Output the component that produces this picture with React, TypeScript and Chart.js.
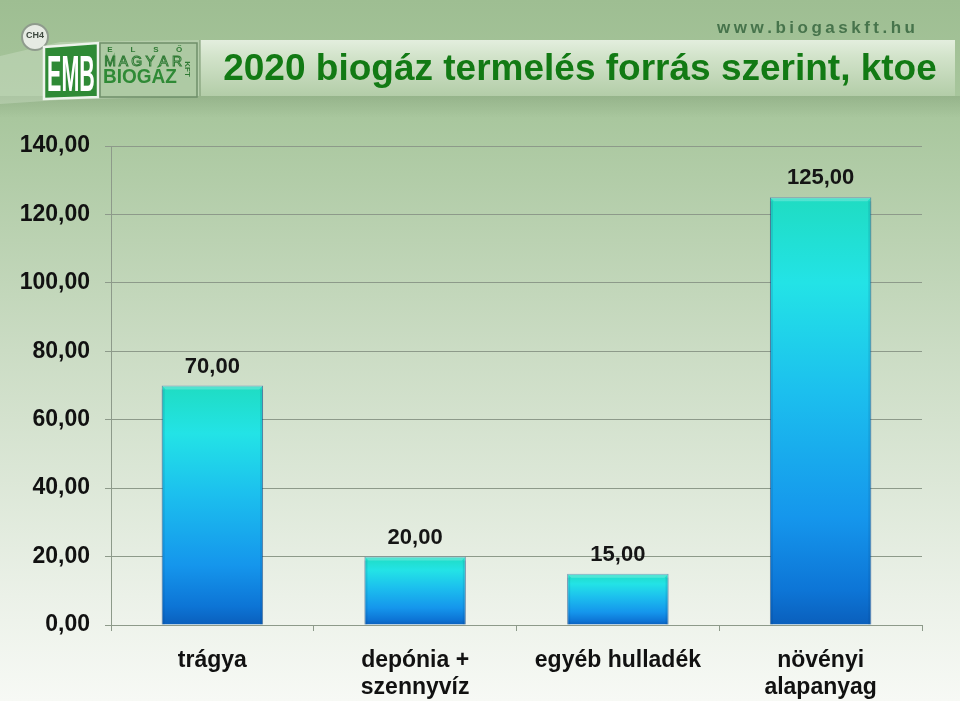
import React, { useEffect, useRef } from "react";
import { Chart, registerables } from "chart.js";

Chart.register(...registerables);

const TITLE = "2020 biogáz termelés forrás szerint, ktoe";
const WEBSITE = "www.biogaskft.hu";
const categories: (string | string[])[] = [
  "trágya",
  ["depónia +", "szennyvíz"],
  "egyéb hulladék",
  ["növényi", "alapanyag"],
];
const values: number[] = [70, 20, 15, 125];
const yMin = 0;
const yMax = 140;
const yStep = 20;

const FONT = '"Liberation Sans", Arial, Helvetica, sans-serif';
const fmt = (v: number) => v.toFixed(2).replace(".", ",");

const headerPlugin = {
  id: "bgHeader",
  beforeDraw(chart: any) {
    const ctx: CanvasRenderingContext2D = chart.ctx;
    const W = chart.width;
    const H = chart.height;
    ctx.save();
    // page background
    const g = ctx.createLinearGradient(0, 0, 0, H);
    g.addColorStop(0, "#9ebe92");
    g.addColorStop(0.17, "#a9c79e");
    g.addColorStop(0.5, "#cbdcc4");
    g.addColorStop(0.85, "#ebf1e8");
    g.addColorStop(1, "#f7f9f5");
    ctx.fillStyle = g;
    ctx.fillRect(0, 0, W, H);

    // soft shadow under header
    const hb = ctx.createLinearGradient(0, 96, 0, 118);
    hb.addColorStop(0, "rgba(110,140,100,0.30)");
    hb.addColorStop(1, "rgba(110,140,100,0)");
    ctx.fillStyle = hb;
    ctx.fillRect(0, 96, W, 22);

    // pale perspective wall behind logo
    ctx.fillStyle = "rgba(215,230,208,0.35)";
    ctx.beginPath();
    ctx.moveTo(0, 56);
    ctx.lineTo(60, 42);
    ctx.lineTo(200, 40);
    ctx.lineTo(200, 96);
    ctx.lineTo(60, 100);
    ctx.lineTo(0, 104);
    ctx.closePath();
    ctx.fill();

    // title band
    const tb = ctx.createLinearGradient(0, 40, 0, 96);
    tb.addColorStop(0, "#e3eede");
    tb.addColorStop(0.3, "#d2e3ca");
    tb.addColorStop(1, "#b3cda8");
    ctx.fillStyle = tb;
    ctx.fillRect(200, 40, 755, 56);
    ctx.fillStyle = "rgba(120,150,110,0.5)";
    ctx.fillRect(199, 40, 2, 56);

    // CH4 circle
    ctx.beginPath();
    ctx.arc(35, 37, 13, 0, Math.PI * 2);
    ctx.fillStyle = "#e6ebe3";
    ctx.fill();
    ctx.lineWidth = 2;
    ctx.strokeStyle = "#8f9b8d";
    ctx.stroke();
    ctx.fillStyle = "#3f4a40";
    ctx.font = `bold 9px ${FONT}`;
    ctx.textAlign = "center";
    ctx.textBaseline = "middle";
    ctx.fillText("CH4", 35, 36);

    // EMB box
    ctx.beginPath();
    ctx.moveTo(44, 47);
    ctx.lineTo(98, 43);
    ctx.lineTo(98, 97);
    ctx.lineTo(44, 99);
    ctx.closePath();
    ctx.fillStyle = "#2f8a36";
    ctx.fill();
    ctx.lineWidth = 2.5;
    ctx.strokeStyle = "#eef3ec";
    ctx.stroke();
    ctx.save();
    ctx.translate(71, 91);
    ctx.scale(0.43, 1);
    ctx.font = `bold 50px ${FONT}`;
    ctx.fillStyle = "#ffffff";
    ctx.textAlign = "center";
    ctx.textBaseline = "alphabetic";
    ctx.fillText("EMB", 0, 0);
    ctx.restore();

    // MAGYAR BIOGÁZ box
    ctx.fillStyle = "rgba(170,200,160,0.7)";
    ctx.fillRect(100, 43, 97, 54);
    ctx.lineWidth = 1.5;
    ctx.strokeStyle = "#6f8f6a";
    ctx.strokeRect(100, 43, 97, 54);
    ctx.textAlign = "center";
    ctx.textBaseline = "alphabetic";
    ctx.font = `bold 8px ${FONT}`;
    ctx.fillStyle = "#2f7a34";
    const elso = ["E", "L", "S", "Ő"];
    elso.forEach((c, i) => ctx.fillText(c, 110 + i * 23, 52));
    ctx.font = `14px ${FONT}`;
    const magyar = "MAGYAR".split("");
    magyar.forEach((c, i) => {
      ctx.fillStyle = "#d6e7cf";
      ctx.fillText(c, 110 + i * 13.4, 66);
      ctx.lineWidth = 1;
      ctx.strokeStyle = "#2f7a34";
      ctx.strokeText(c, 110 + i * 13.4, 66);
    });
    ctx.font = `bold 20px ${FONT}`;
    ctx.fillStyle = "#2f8a36";
    ctx.textAlign = "left";
    ctx.save();
    ctx.translate(103, 83);
    ctx.scale(0.95, 1.05);
    ctx.fillText("BIOGÁZ", 0, 0);
    ctx.restore();
    ctx.save();
    ctx.translate(188, 69);
    ctx.rotate(Math.PI / 2);
    ctx.font = `bold 8px ${FONT}`;
    ctx.textAlign = "center";
    ctx.fillStyle = "#2f7a34";
    ctx.fillText("KFT", 0, 3);
    ctx.restore();

    // website
    ctx.font = `bold 17px ${FONT}`;
    ctx.fillStyle = "#47744c";
    ctx.textAlign = "left";
    let x = 717;
    for (const c of WEBSITE) {
      ctx.fillText(c, x, 33);
      x += ctx.measureText(c).width + 3.5;
    }

    // title
    ctx.font = `bold 37px ${FONT}`;
    ctx.fillStyle = "#127a14";
    ctx.textAlign = "center";
    ctx.fillText(TITLE, 580, 80);
    ctx.restore();
  },
};

const barDecorPlugin = {
  id: "barDecor",
  afterDatasetsDraw(chart: any) {
    const ctx: CanvasRenderingContext2D = chart.ctx;
    const meta = chart.getDatasetMeta(0);
    ctx.save();
    meta.data.forEach((bar: any, i: number) => {
      const half = bar.width / 2;
      const l = bar.x - half;
      const r = bar.x + half;
      const t = bar.y;
      const b = bar.base;
      // top bevel
      ctx.fillStyle = "rgba(255,255,255,0.22)";
      ctx.beginPath();
      ctx.moveTo(l, t);
      ctx.lineTo(r, t);
      ctx.lineTo(r - 4, t + 4);
      ctx.lineTo(l + 4, t + 4);
      ctx.closePath();
      ctx.fill();
      // side shading
      ctx.fillStyle = "rgba(0,50,110,0.12)";
      ctx.fillRect(l, t + 4, 3, b - t - 4);
      ctx.fillRect(r - 3, t + 4, 3, b - t - 4);
      // value label
      ctx.font = `bold 22px ${FONT}`;
      ctx.fillStyle = "#151515";
      ctx.textAlign = "center";
      ctx.textBaseline = "middle";
      ctx.fillText(fmt(chart.data.datasets[0].data[i]), bar.x, t - 19);
    });
    ctx.restore();
  },
};

export default function App() {
  const ref = useRef<HTMLCanvasElement | null>(null);

  useEffect(() => {
    document.body.style.margin = "0";
    const canvas = ref.current;
    if (!canvas) return;
    const gridColor = "#8d9a8a";
    const chart = new Chart(canvas, {
      type: "bar",
      data: {
        labels: categories as any,
        datasets: [
          {
            data: values,
            backgroundColor: (c: any) => {
              const ch = c.chart;
              if (!ch.chartArea || c.type !== "data" || !ch.scales.y) return "#1aa0ea";
              const ys = ch.scales.y;
              const top = ys.getPixelForValue(c.raw);
              const bottom = ys.getPixelForValue(0);
              const g = ch.ctx.createLinearGradient(0, top, 0, bottom);
              g.addColorStop(0, "#1fdcc2");
              g.addColorStop(0.2, "#23e3e6");
              g.addColorStop(0.45, "#1cc0ee");
              g.addColorStop(0.75, "#1596ec");
              g.addColorStop(0.92, "#0d75d6");
              g.addColorStop(1, "#0a5fbc");
              return g;
            },
            borderColor: "rgba(10,70,140,0.6)",
            borderWidth: 1,
            categoryPercentage: 1,
            barPercentage: 0.5,
          },
        ],
      },
      options: {
        responsive: false,
        animation: false,
        devicePixelRatio: 1,
        layout: { padding: { top: 146, right: 38, bottom: 0, left: 0 } },
        plugins: {
          legend: { display: false },
          title: { display: false },
          tooltip: { enabled: false },
        },
        scales: {
          x: {
            offset: true,
            grid: {
              offset: true,
              drawOnChartArea: false,
              drawTicks: true,
              tickLength: 6,
              color: gridColor,
            },
            border: { display: true, color: gridColor, width: 1 },
            ticks: {
              color: "#111111",
              font: { family: FONT, size: 23, weight: "bold", lineHeight: 27 / 23 },
              padding: 16,
              maxRotation: 0,
              autoSkip: false,
            },
            afterFit: (s: any) => {
              s.height = 76;
            },
          },
          y: {
            min: yMin,
            max: yMax,
            grid: { color: gridColor, tickLength: 6, drawTicks: true },
            border: { display: true, color: gridColor, width: 1 },
            ticks: {
              stepSize: yStep,
              color: "#111111",
              font: { family: FONT, size: 23, weight: "bold" },
              padding: 15,
              callback: (v: any) => fmt(Number(v)),
            },
            afterFit: (s: any) => {
              s.width = 111;
            },
          },
        },
      } as any,
      plugins: [headerPlugin, barDecorPlugin],
    });
    return () => chart.destroy();
  }, []);

  return (
    <div style={{ width: 960, height: 701, position: "relative" }}>
      <canvas ref={ref} width={960} height={701} style={{ display: "block" }} />
    </div>
  );
}
